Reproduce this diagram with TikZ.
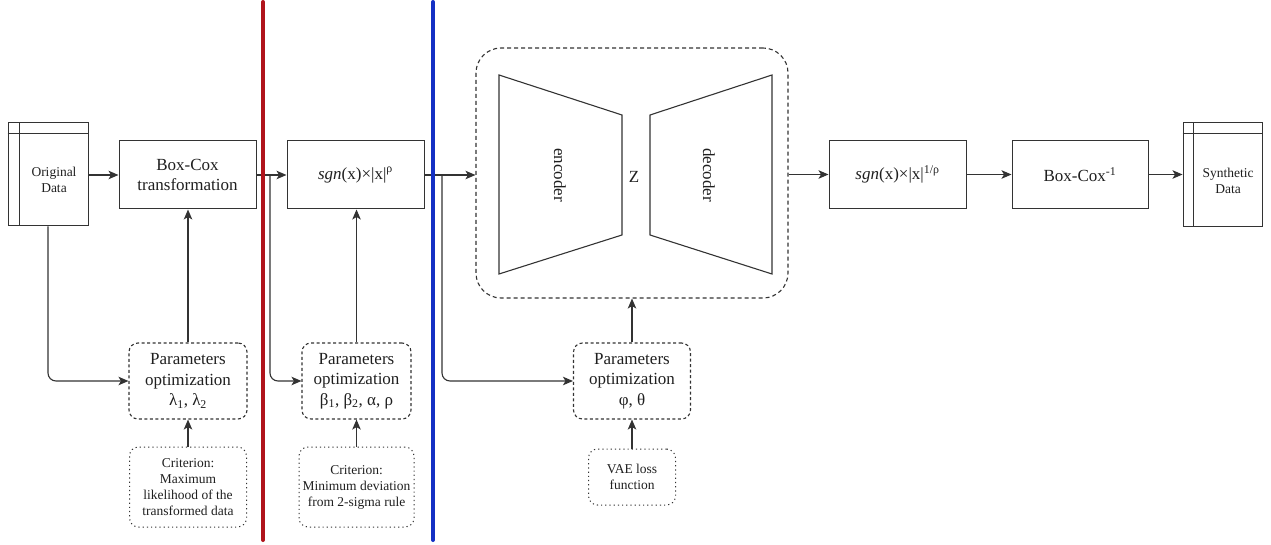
\documentclass[tikz,border=0pt]{standalone}
\usepackage{fontspec}
\setmainfont{LiberationSerif}[
    Extension=.ttf,
    UprightFont=*-Regular,
    ItalicFont=*-Italic,
    BoldFont=*-Bold,
    BoldItalicFont=*-BoldItalic]
\usepackage{tikz}
\usetikzlibrary{arrows.meta}
\definecolor{splitred}{HTML}{B0141C}
\definecolor{splitblue}{HTML}{1430C4}
\colorlet{linecolor}{black!80}
\colorlet{textcolor}{black!88}
\tikzstyle{stepbox} =[
    draw=linecolor,
    line width=1pt,
    rectangle,
    text=textcolor,
    align=center,
    minimum width=137pt,
    minimum height=68pt,
    font=\fontsize{17}{20}\selectfont
    ]
\tikzstyle{datastore} =[
    draw=linecolor,
    line width=1pt,
    rectangle,
    minimum width=80pt,
    minimum height=103pt
    ]
\tikzstyle{paramsbox} =[
    draw=linecolor,
    line width=1.1pt,
    dash pattern=on 3pt off 2.5pt,
    rounded corners=9pt,
    text=textcolor,
    align=center,
    minimum height=76pt,
    font=\fontsize{17}{20.5}\selectfont
    ]
\tikzstyle{critbox} =[
    draw=linecolor,
    line width=1pt,
    dash pattern=on 1.2pt off 3pt,
    rounded corners=9pt,
    text=textcolor,
    align=center,
    font=\fontsize{13.5}{16}\selectfont
    ]
\tikzstyle{conn} =[
    draw=linecolor,
    line width=1.1pt,
    -{Stealth[length=10pt,width=8.5pt,inset=2.5pt]}
    ]
\tikzstyle{separator} =[
    line width=4pt,
    line cap=round
    ]

\begin{document}
\begin{tikzpicture}[x=1pt,y=-1pt]
\useasboundingbox (0,0) rectangle (1271,545);

% data tables
\node[datastore] (origdata) at (48,174.5) {};
\draw[linecolor, line width=1pt] ([yshift=-11pt]origdata.north west) -- ([yshift=-11pt]origdata.north east);
\draw[linecolor, line width=1pt] ([xshift=12pt]origdata.north west) -- ([xshift=12pt]origdata.south west);
\node[text=textcolor, align=center, font=\fontsize{13.5}{16}\selectfont] (origtext) at (54,180) {Original\\Data};

\node[datastore, minimum width=79pt, minimum height=104pt] (synth) at (1222.5,175) {};
\draw[linecolor, line width=1pt] ([yshift=-11pt]synth.north west) -- ([yshift=-11pt]synth.north east);
\draw[linecolor, line width=1pt] ([xshift=11pt]synth.north west) -- ([xshift=11pt]synth.south west);
\node[text=textcolor, align=center, font=\fontsize{13.5}{16}\selectfont] (synthtext) at (1228,181) {Synthetic\\Data};

% transformations
\node[stepbox] (boxcox) at (187.5,175) {Box-Cox\\transformation};
\node[stepbox] (sgn) at (355.5,175) {\textit{sgn}(x)×|x|\textsuperscript{ρ}};
\node[stepbox] (sgninv) at (897.5,174.5) {\textit{sgn}(x)×|x|\textsuperscript{1/ρ}};
\node[stepbox, minimum width=136pt] (boxcoxinv) at (1080,174.5) {Box-Cox\textsuperscript{-1}};

% VAE
\node[draw=linecolor, line width=1.1pt, dash pattern=on 4pt off 3pt, rounded corners=25pt,
      minimum width=312pt, minimum height=250pt] (vae) at (632,173) {};
\draw[linecolor, line width=1.1pt] (499,75) -- (622,115) -- (622,235) -- (499,274) -- cycle;
\draw[linecolor, line width=1.1pt] (772,75) -- (650,115) -- (650,235) -- (772,274) -- cycle;
\node[text=textcolor, rotate=-90, font=\fontsize{17}{20}\selectfont] (encoder) at (560,175) {encoder};
\node[text=textcolor, rotate=-90, font=\fontsize{17}{20}\selectfont] (decoder) at (709,175) {decoder};
\node[text=textcolor, font=\fontsize{17}{20}\selectfont] (latent) at (634,177) {Z};

% optimization
\node[paramsbox, minimum width=118pt] (param1) at (188,381) {Parameters\\optimization\\λ\textsubscript{1}, λ\textsubscript{2}};
\node[paramsbox, minimum width=109pt] (param2) at (356.5,381) {Parameters\\optimization\\β\textsubscript{1}, β\textsubscript{2}, α, ρ};
\node[paramsbox, minimum width=117pt] (param3) at (632,381) {Parameters\\optimization\\φ, θ};

\node[critbox, minimum width=117pt, minimum height=80pt] (crit1) at (188,487) {Criterion:\\Maximum\\likelihood of the\\transformed data};
\node[critbox, minimum width=115pt, minimum height=80pt] (crit2) at (356.5,487) {Criterion:\\Minimum deviation\\from 2-sigma rule};
\node[critbox, minimum width=87pt, minimum height=56pt] (vaeloss) at (632,477) {VAE loss\\function};

% connectors
\coordinate (split1) at (270,175);
\coordinate (split2) at (442,175);
\draw[conn] (origdata.east |- boxcox.west) -- (boxcox.west);
\draw[conn] (boxcox.east) -- (sgn.west);
\draw[conn] (sgn.east) -- (vae.west |- sgn.east);
\draw[conn] (vae.east |- sgninv.west) -- (sgninv.west);
\draw[conn] (sgninv.east) -- (boxcoxinv.west);
\draw[conn] (boxcoxinv.east) -- (synth.west |- boxcoxinv.east);

\draw[conn, rounded corners=8pt] (origdata.south) |- (param1.west);
\draw[conn, rounded corners=8pt] (split1) |- (param2.west);
\draw[conn, rounded corners=8pt] (split2) |- (param3.west);

\draw[conn] (param1.north) -- (param1.north |- boxcox.south);
\draw[conn] (param2.north) -- (param2.north |- sgn.south);
\draw[conn] (param3.north) -- (param3.north |- vae.south);
\draw[conn] (crit1.north) -- (param1.south);
\draw[conn] (crit2.north) -- (param2.south);
\draw[conn] (vaeloss.north) -- (param3.south);

% stage separators
\draw[separator, splitred] (263,2) -- (263,540);
\draw[separator, splitblue] (433,2) -- (433,540);
\end{tikzpicture}
\end{document}
